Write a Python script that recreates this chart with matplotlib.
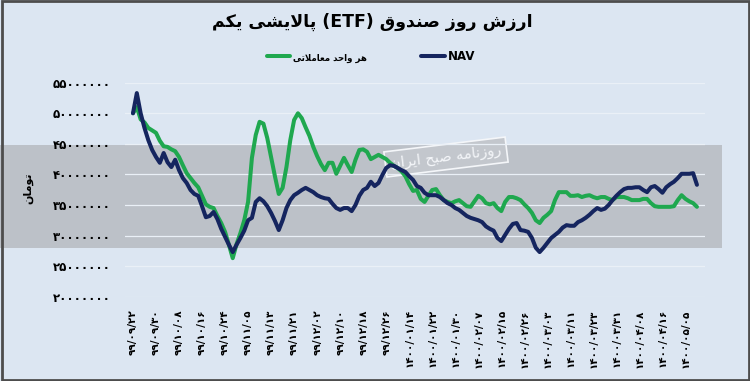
import numpy as np
import matplotlib
matplotlib.use("Agg")
import matplotlib.pyplot as plt
from matplotlib.patches import Rectangle

# ---------------- data ----------------
TITLE = "ارزش روز صندوق (ETF) پالایشی یکم"
SERIES_PRICE = "هر واحد معاملاتی"
SERIES_NAV = "NAV"
Y_LABEL = "تومان"
WATERMARK_TEXT = "روزنامه صبح ایران"

date_labels = ["۹۹/۰۹/۲۲", "۹۹/۰۹/۳۰", "۹۹/۱۰/۰۸", "۹۹/۱۰/۱۶", "۹۹/۱۰/۲۴",
               "۹۹/۱۱/۰۵", "۹۹/۱۱/۱۳", "۹۹/۱۱/۲۱", "۹۹/۱۲/۰۲", "۹۹/۱۲/۱۰",
               "۹۹/۱۲/۱۸", "۹۹/۱۲/۲۶", "۱۴۰۰/۰۱/۱۴", "۱۴۰۰/۰۱/۲۲", "۱۴۰۰/۰۱/۳۰",
               "۱۴۰۰/۰۲/۰۷", "۱۴۰۰/۰۲/۱۵", "۱۴۰۰/۰۲/۲۶", "۱۴۰۰/۰۳/۰۳", "۱۴۰۰/۰۳/۱۱",
               "۱۴۰۰/۰۳/۲۳", "۱۴۰۰/۰۳/۳۱", "۱۴۰۰/۰۴/۰۸", "۱۴۰۰/۰۴/۱۶", "۱۴۰۰/۰۵/۰۵"]
label_every = 6  # one date label every 6 trading days

# values in millions of toman
nav_millions = [
    50.0, 53.3, 50.0, 47.6, 45.6, 44.0, 42.85, 41.9, 43.5, 42.0, 41.2,
    42.4, 40.7, 39.4, 38.6, 37.45, 36.8, 36.5, 34.8, 33.0, 33.2, 33.85,
    32.7, 31.1, 29.8, 28.5, 27.3, 28.5, 29.6, 30.8, 32.5,
    32.9, 35.5, 36.1, 35.6, 34.8, 33.7, 32.4, 30.9, 32.5, 34.5, 35.8,
    36.6, 37.0, 37.45, 37.8, 37.45, 37.1, 36.6, 36.3, 36.1, 36.0, 35.2, 34.5,
    34.2, 34.5, 34.5, 34.0, 35.0, 36.5, 37.45, 37.8, 38.8, 38.1, 38.6,
    39.9, 41.05, 41.5, 41.4, 41.05, 40.7, 40.4, 39.7, 39.1,
    38.1, 37.8, 37.0, 36.6, 36.6, 36.6, 36.3, 35.8, 35.3, 35.0, 34.5,
    34.2, 33.7, 33.2, 32.9, 32.7, 32.5, 32.2, 31.5, 31.1, 30.8,
    29.6, 29.1, 30.1, 31.1, 31.9, 32.05, 30.9, 30.8, 30.6, 29.6, 28.0,
    27.3, 28.0, 28.8, 29.6, 30.1, 30.6, 31.3, 31.7, 31.6, 31.6,
    32.2, 32.5, 32.9, 33.4, 34.0, 34.5, 34.2, 34.4, 35.0, 35.8, 36.5,
    37.1, 37.6, 37.8, 37.8, 37.9, 37.9, 37.45, 37.1, 37.9, 38.1, 37.6,
    37.0, 37.9, 38.4, 38.8, 39.4, 40.1, 40.1, 40.1, 40.2, 38.3]

price_millions = [
    50.0, 51.0, 49.0, 48.5, 47.6, 47.2, 46.8, 45.5, 44.6, 44.5, 44.1,
    43.8, 42.85, 41.5, 40.2, 39.4, 38.6, 37.9, 36.5, 35.1, 34.7, 34.5,
    33.2, 32.05, 30.6, 28.5, 26.3, 28.6, 30.4, 32.5, 35.5,
    42.7, 46.45, 48.6, 48.3, 45.95, 42.85, 39.7, 36.8, 37.8, 41.2, 45.6,
    48.9, 50.0, 49.2, 47.7, 46.3, 44.5, 43.0, 41.7, 40.7, 41.9, 41.9, 40.1,
    41.4, 42.7, 41.5, 40.4, 42.4, 44.0, 44.1, 43.7, 42.5, 42.85, 43.2,
    42.85, 42.5, 41.9, 41.4, 41.05, 40.5, 39.7, 38.4, 37.3,
    37.45, 36.0, 35.5, 36.5, 37.45, 37.6, 36.6, 35.8, 35.5, 35.3, 35.6,
    35.8, 35.3, 34.8, 34.7, 35.6, 36.5, 36.1, 35.3, 35.1, 35.3,
    34.5, 34.0, 35.5, 36.3, 36.3, 36.1, 35.8, 35.1, 34.5, 33.7, 32.5,
    32.05, 32.9, 33.4, 34.0, 35.8, 37.1, 37.1, 37.1, 36.5, 36.5,
    36.6, 36.3, 36.5, 36.6, 36.3, 36.1, 36.3, 36.3, 36.0, 35.8, 36.3,
    36.3, 36.3, 36.1, 35.8, 35.8, 35.8, 36.0, 36.0, 35.3, 34.8, 34.7,
    34.7, 34.7, 34.7, 34.8, 35.8, 36.6, 36.0, 35.6, 35.3, 34.7]

y_ticks = [20000000, 25000000, 30000000, 35000000, 40000000, 45000000, 50000000, 55000000]

# ---------------- helpers: Persian shaping for display ----------------
FORMS = {
    'ا': ('\uFE8D', '\uFE8E', None, None),
    'آ': ('\uFE81', '\uFE82', None, None),
    'ب': ('\uFE8F', '\uFE90', '\uFE91', '\uFE92'),
    'پ': ('\uFB56', '\uFB57', '\uFB58', '\uFB59'),
    'ت': ('\uFE95', '\uFE96', '\uFE97', '\uFE98'),
    'ج': ('\uFE9D', '\uFE9E', '\uFE9F', '\uFEA0'),
    'ح': ('\uFEA1', '\uFEA2', '\uFEA3', '\uFEA4'),
    'د': ('\uFEA9', '\uFEAA', None, None),
    'ر': ('\uFEAD', '\uFEAE', None, None),
    'ز': ('\uFEAF', '\uFEB0', None, None),
    'س': ('\uFEB1', '\uFEB2', '\uFEB3', '\uFEB4'),
    'ش': ('\uFEB5', '\uFEB6', '\uFEB7', '\uFEB8'),
    'ص': ('\uFEB9', '\uFEBA', '\uFEBB', '\uFEBC'),
    'ع': ('\uFEC9', '\uFECA', '\uFECB', '\uFECC'),
    'ق': ('\uFED5', '\uFED6', '\uFED7', '\uFED8'),
    'ک': ('\uFB8E', '\uFB8F', '\uFB90', '\uFB91'),
    'ل': ('\uFEDD', '\uFEDE', '\uFEDF', '\uFEE0'),
    'م': ('\uFEE1', '\uFEE2', '\uFEE3', '\uFEE4'),
    'ن': ('\uFEE5', '\uFEE6', '\uFEE7', '\uFEE8'),
    'ه': ('\uFEE9', '\uFEEA', '\uFEEB', '\uFEEC'),
    'و': ('\uFEED', '\uFEEE', None, None),
    'ی': ('\uFBFC', '\uFBFD', '\uFBFE', '\uFBFF'),
}


def _joins_next(c):
    return c in FORMS and FORMS[c][2] is not None


def shape_word(w):
    ch = list(w)
    out = []
    i = 0
    n = len(ch)
    while i < n:
        c = ch[i]
        if c not in FORMS:
            out.append(c)
            i += 1
            continue
        prev_conn = i > 0 and _joins_next(ch[i - 1])
        if c == 'ل' and i + 1 < n and ch[i + 1] == 'ا':
            out.append('\uFEFC' if prev_conn else '\uFEFB')
            i += 2
            continue
        next_conn = i + 1 < n and ch[i + 1] in FORMS and FORMS[c][2] is not None
        iso, fin, ini, med = FORMS[c]
        if prev_conn and next_conn:
            g = med
        elif prev_conn:
            g = fin
        elif next_conn:
            g = ini
        else:
            g = iso
        out.append(g)
        i += 1
    return ''.join(reversed(out))


def rtl(text):
    words = text.split(' ')
    return ' '.join(shape_word(w) if any(c in FORMS for c in w) else w
                    for w in reversed(words))


PERSIAN_DIGITS = str.maketrans("0123456789", "۰۱۲۳۴۵۶۷۸۹")


def fa_num(v):
    return str(int(v)).translate(PERSIAN_DIGITS)


# ---------------- figure ----------------
plt.rcParams['font.family'] = ['DejaVu Sans']
BG = '#dce6f2'
W, H = 750, 381
fig = plt.figure(figsize=(7.5, 3.81), dpi=100, facecolor=BG)

# watermark grey band
fig.patches.append(Rectangle((0, 1 - 248 / H), 722 / W, (248 - 145) / H,
                             transform=fig.transFigure, facecolor='#bcc1c8',
                             edgecolor='none', zorder=0))

ax = fig.add_axes([125 / W, 1 - 296.7 / H, 580 / W, (296.7 - 82.7) / H])
ax.set_facecolor('none')
ax.set_zorder(2)

x = np.arange(len(nav_millions))
price = np.array(price_millions) * 1e6
nav = np.array(nav_millions) * 1e6

ax.plot(x, price, color='#1fa84f', lw=2.9, solid_joinstyle='round',
        solid_capstyle='round', label=rtl(SERIES_PRICE), zorder=3)
ax.plot(x, nav, color='#15255f', lw=2.9, solid_joinstyle='round',
        solid_capstyle='round', label=SERIES_NAV, zorder=4)

ax.set_xlim(-2.08, 149.1)
ax.set_ylim(y_ticks[0], y_ticks[-1])
ax.set_yticks(y_ticks)
ax.set_yticklabels([fa_num(v) for v in y_ticks], fontsize=8.5, fontweight='bold')
ax.set_xticks(x[::label_every][:len(date_labels)])
ax.set_xticklabels(date_labels, rotation=90, fontsize=7.5, fontweight='bold')
ax.tick_params(axis='both', length=0)
ax.tick_params(axis='y', pad=10)
ax.tick_params(axis='x', pad=9)
ax.grid(axis='y', color='#eaf0f7', lw=0.9, zorder=1)
for s in ax.spines.values():
    s.set_visible(False)

# y label
fig.text(28 / W, 1 - 188 / H, rtl(Y_LABEL), rotation=90, fontsize=8,
         fontweight='bold', ha='center', va='center')

# title
fig.text(372 / W, 1 - 22 / H, rtl(TITLE), fontsize=12.5, fontweight='bold',
         ha='center', va='center')

# legend
leg = fig.legend(loc='center', bbox_to_anchor=(371 / W, 1 - 57 / H), ncol=2,
                 frameon=False, handlelength=2.0, columnspacing=4.6,
                 handletextpad=0.25, prop={'weight': 'bold', 'size': 8.5})
leg.get_texts()[0].set_fontsize(6.2)

# slanted newspaper watermark box
fig.text(446 / W, 1 - 157 / H, rtl(WATERMARK_TEXT), rotation=7, fontsize=10.5,
         color='#f4f6f9', ha='center', va='center', zorder=1,
         bbox=dict(boxstyle='square,pad=0.35', facecolor='#c3c7cd',
                   edgecolor='#f4f6f9', lw=1.2))

# outer frame
fig.patches.append(Rectangle((0.002, 0.003), 0.996, 0.994, transform=fig.transFigure,
                             fill=False, edgecolor='#4d4d4d', lw=2, zorder=10))

fig.savefig('out.png', dpi=100, facecolor=BG)
